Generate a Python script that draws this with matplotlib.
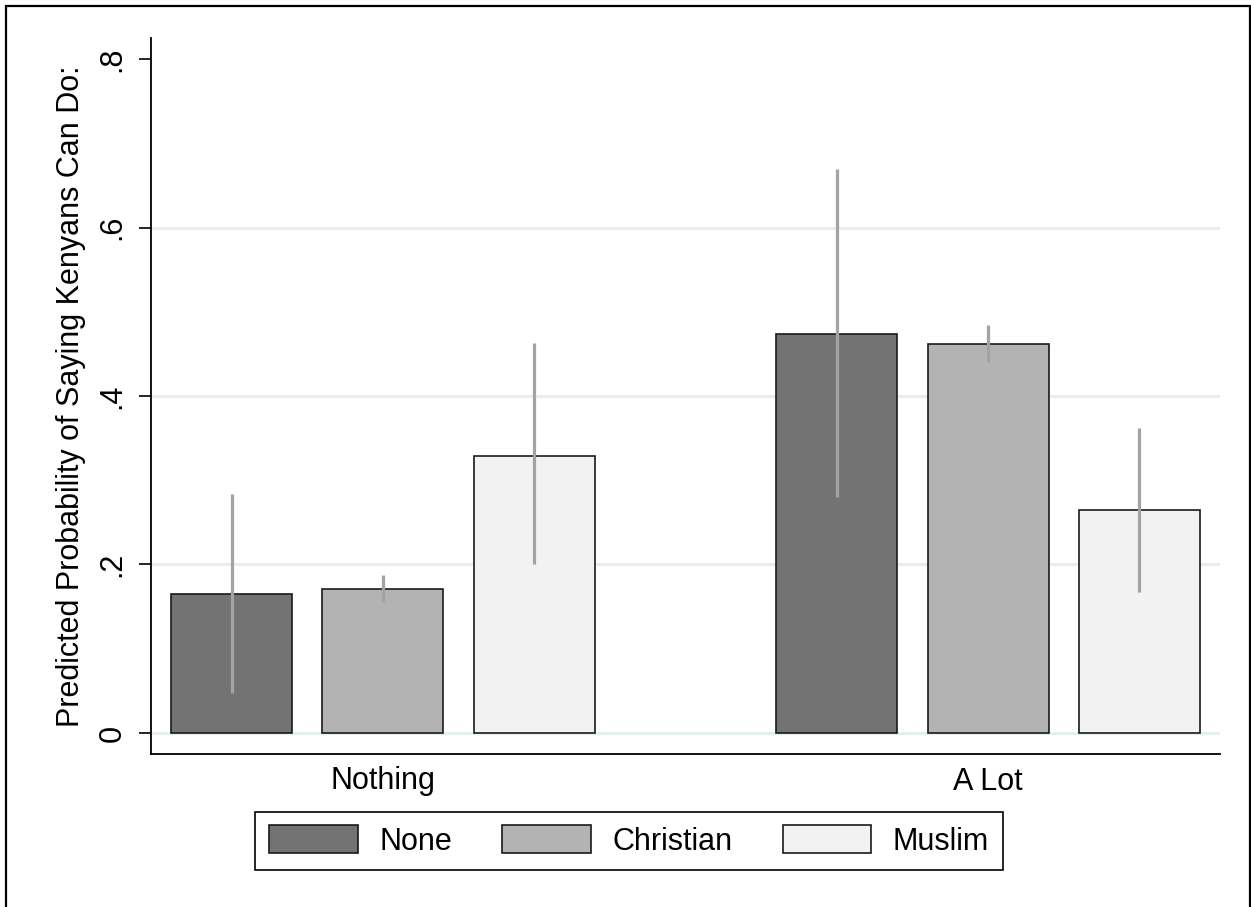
import numpy as np
import matplotlib.pyplot as plt
from matplotlib.patches import Patch, Rectangle

plt.rcParams['font.family'] = ['Liberation Sans', 'DejaVu Sans']

# data
groups = ['Nothing', 'A Lot']
religions = ['None', 'Christian', 'Muslim']
colors = ['#737373', '#b3b3b3', '#f2f2f2']

prob = {
    'None':      [0.165, 0.474],
    'Christian': [0.171, 0.462],
    'Muslim':    [0.329, 0.265],
}
ci_low = {
    'None':      [0.047, 0.280],
    'Christian': [0.155, 0.440],
    'Muslim':    [0.201, 0.167],
}
ci_high = {
    'None':      [0.284, 0.669],
    'Christian': [0.188, 0.484],
    'Muslim':    [0.463, 0.362],
}
yticks = [0, 0.2, 0.4, 0.6, 0.8]
ytick_labels = ['0', '.2', '.4', '.6', '.8']

W, H = 1251, 907
fs = 22
fig = plt.figure(figsize=(W / 100, H / 100), dpi=100)
ax = fig.add_axes([151 / W, (H - 754) / H, (1220 - 151) / W, (754 - 38) / H])

x = np.arange(len(groups))
offset = 0.25
width = 0.2

for yv in [0, 0.2, 0.4, 0.6]:
    ax.axhline(yv, color='#e6eff0', lw=2.2, zorder=0)

for i, r in enumerate(religions):
    xpos = x + (i - 1) * offset
    ax.bar(xpos, prob[r], width=width, color=colors[i],
           edgecolor='#1a1a1a', linewidth=1.2, zorder=2)
    ax.vlines(xpos, ci_low[r], ci_high[r], color='#a3a3a3', lw=2.3, zorder=3)

ax.set_xlim(-0.383, 1.383)
ax.set_ylim(-0.025, 0.825)
ax.set_xticks(x)
ax.set_xticklabels(groups, fontsize=fs)
ax.tick_params(axis='x', length=0, pad=9)
ax.set_yticks(yticks)
ax.set_yticklabels(ytick_labels, fontsize=fs, rotation=90, va='center')
ax.tick_params(axis='y', length=9, width=1.2, pad=8)
ax.set_ylabel('Predicted Probability of Saying Kenyans Can Do:', fontsize=fs, labelpad=8)

for s in ['top', 'right']:
    ax.spines[s].set_visible(False)
for s in ['left', 'bottom']:
    ax.spines[s].set_linewidth(1.3)

handles = [Patch(facecolor=c, edgecolor='#1a1a1a', linewidth=1.2) for c in colors]
leg = fig.legend(handles, religions, ncol=3, loc='center',
                 bbox_to_anchor=(629 / W, 1 - 841 / H), fontsize=fs,
                 fancybox=False, edgecolor='black', framealpha=1,
                 handlelength=2.9, handleheight=1.0, handletextpad=0.7,
                 columnspacing=1.65, borderpad=0.45)
leg.get_frame().set_linewidth(1.2)

# outer graph border
fig.patches.append(Rectangle((6 / W, -0.02), (1250 - 6) / W, 1.02 - 6 / H,
                             transform=fig.transFigure, fill=False,
                             edgecolor='black', lw=1.6, clip_on=False))

plt.savefig('out.png', dpi=100)
